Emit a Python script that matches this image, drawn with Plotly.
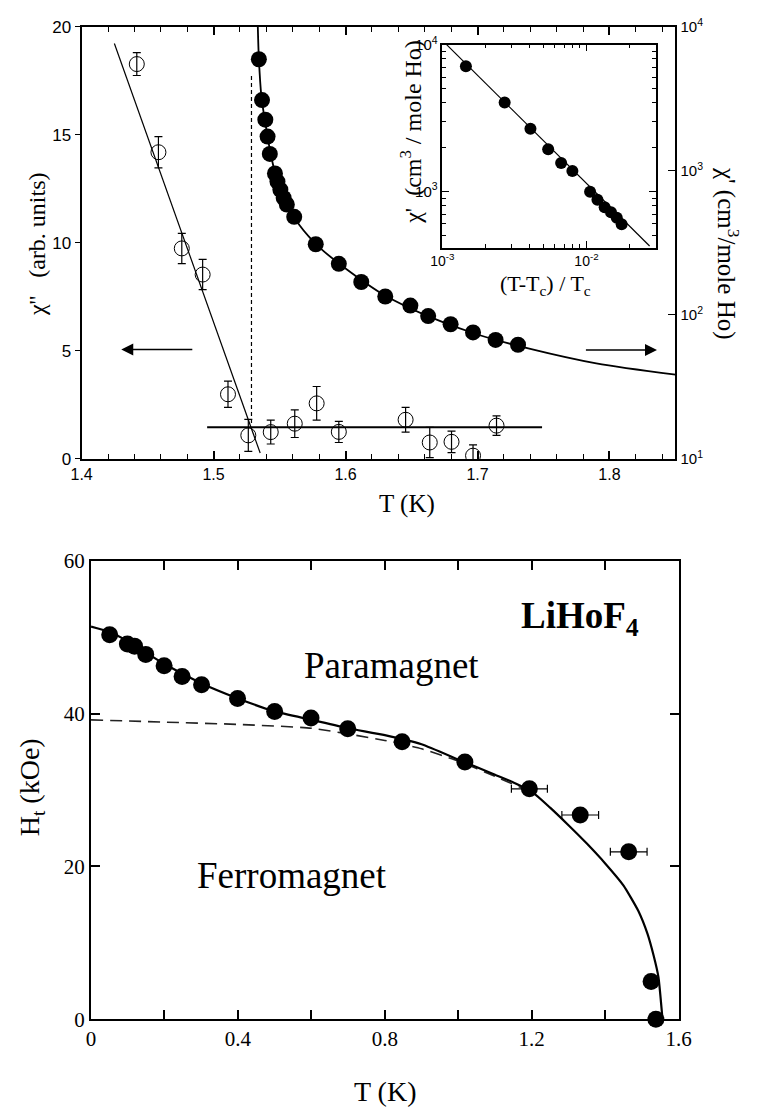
import plotly.graph_objects as go

# ---- upper panel: chi'' (open circles, left axis) and chi' (filled, right log axis)
T_open = [1.4418, 1.4582, 1.4759, 1.4917, 1.5109, 1.5263, 1.5433, 1.5615,
          1.5781, 1.5949, 1.6455, 1.6638, 1.6803, 1.6966, 1.7144]
chi2 = [18.27, 14.19, 9.74, 8.53, 2.99, 1.09, 1.24, 1.63, 2.57, 1.25, 1.81,
        0.76, 0.79, 0.15, 1.54]
chi2_err = [0.53, 0.72, 0.7, 0.7, 0.61, 0.74, 0.55, 0.64, 0.78, 0.49, 0.57,
            0.7, 0.5, 0.5, 0.45]

T_fill = [1.5343, 1.5367, 1.5392, 1.5409, 1.5426, 1.5465, 1.5484, 1.5506,
          1.5531, 1.5555, 1.5611, 1.5774, 1.5949, 1.6119, 1.6301, 1.6491,
          1.6626, 1.6796, 1.6966, 1.7137, 1.7307]
chi1 = [5940, 3093, 2263, 1727, 1308, 957, 841, 738, 648, 583, 479, 309, 226,
        169, 134, 116, 98, 86, 75.5, 67, 62]

# fitted chi' curve
T_fit = [1.5335, 1.5343, 1.5362, 1.5390, 1.5430, 1.5480, 1.5550, 1.5650,
         1.5800, 1.6000, 1.6300, 1.6600, 1.7000, 1.7400, 1.7900, 1.8500]
chi1_fit = [10000, 6000, 3300, 2200, 1350, 860, 600, 420, 295, 210, 136, 100,
            73, 58, 46, 38.4]

# straight-line guides for chi''
T_drop = [1.4248, 1.5353]
chi2_drop = [19.22, 0.27]
T_flat = [1.4951, 1.7489]
chi2_flat = [1.47, 1.47]
T_c_line = [1.5287, 1.5287]
chi2_c_line = [1.66, 17.8]

# ---- inset: chi' vs reduced temperature
t_red = [0.001456, 0.002704, 0.004083, 0.005420, 0.006668, 0.007979,
         0.01059, 0.01191, 0.01336, 0.01479, 0.01622, 0.01753]
chi1_red = [7130, 4027, 2673, 1935, 1561, 1374, 995, 876, 778, 721, 661, 596]
t_line = [0.00107, 0.0274]
chi1_line = [10000, 424]

# ---- lower panel: transverse critical field
T_h = [0.0508, 0.099, 0.1185, 0.149, 0.199, 0.248, 0.301, 0.399, 0.500,
       0.599, 0.699, 0.847, 1.018, 1.1936, 1.332, 1.464, 1.525, 1.538]
H_t = [50.33, 49.14, 48.85, 47.77, 46.28, 44.87, 43.79, 42.0, 40.29, 39.44,
       38.03, 36.32, 33.67, 30.17, 26.74, 21.92, 4.95, 0]
T_h_err = [0, 0, 0, 0, 0, 0, 0, 0, 0, 0, 0, 0, 0, 0.049, 0.05, 0.05, 0, 0]

T_mf = [0, 0.05, 0.1, 0.15, 0.2, 0.3, 0.4, 0.5, 0.6, 0.7, 0.8, 0.9, 1.0, 1.1,
        1.15, 1.2, 1.25, 1.3, 1.35, 1.4, 1.45, 1.49, 1.515, 1.532, 1.545,
        1.556]
H_mf = [51.4, 50.7, 49.5, 48.0, 46.5, 44.0, 42.0, 40.3, 39.2, 38.1, 37.2,
        36.0, 34.0, 32.0, 31.0, 29.8, 27.7, 25.4, 23.0, 20.4, 17.5, 14.2,
        11.2, 8.3, 5.5, 0]
T_ei = [0, 0.2, 0.4, 0.6, 0.8, 0.9, 1.0, 1.1, 1.2]
H_ei = [39.2, 38.9, 38.6, 38.1, 36.5, 35.4, 33.8, 31.8, 29.7]

SANS = "Liberation Sans, Arial, Helvetica, sans-serif"
SERIF = "Liberation Serif, Times New Roman, Times, serif"
BLACK = "black"
NB = "\u00a0"

fig = go.Figure()

# upper panel traces
fig.add_trace(go.Scatter(x=T_drop, y=chi2_drop, mode="lines",
                         line=dict(color=BLACK, width=1.2),
                         xaxis="x", yaxis="y", showlegend=False))
fig.add_trace(go.Scatter(x=T_flat, y=chi2_flat, mode="lines",
                         line=dict(color=BLACK, width=2),
                         xaxis="x", yaxis="y", showlegend=False))
fig.add_trace(go.Scatter(x=T_c_line, y=chi2_c_line, mode="lines",
                         line=dict(color=BLACK, width=1.2, dash="4px,3px"),
                         xaxis="x", yaxis="y", showlegend=False))
fig.add_trace(go.Scatter(x=T_open, y=chi2, mode="markers",
                         marker=dict(symbol="circle-open", size=15,
                                     color=BLACK, line=dict(width=1)),
                         error_y=dict(type="data", array=chi2_err,
                                      color=BLACK, thickness=1.2, width=4),
                         xaxis="x", yaxis="y", showlegend=False))
fig.add_trace(go.Scatter(x=T_fit, y=chi1_fit, mode="lines",
                         line=dict(color=BLACK, width=1.8, shape="spline",
                                   smoothing=0.8),
                         xaxis="x", yaxis="y2", showlegend=False))
fig.add_trace(go.Scatter(x=T_fill, y=chi1, mode="markers",
                         marker=dict(symbol="circle", size=16, color=BLACK),
                         xaxis="x", yaxis="y2", showlegend=False))

# inset traces
fig.add_trace(go.Scatter(x=t_line, y=chi1_line, mode="lines",
                         line=dict(color=BLACK, width=1.2),
                         xaxis="x3", yaxis="y3", showlegend=False))
fig.add_trace(go.Scatter(x=t_red, y=chi1_red, mode="markers",
                         marker=dict(symbol="circle", size=12, color=BLACK),
                         xaxis="x3", yaxis="y3", showlegend=False))

# lower panel traces
fig.add_trace(go.Scatter(x=T_ei, y=H_ei, mode="lines",
                         line=dict(color="#222222", width=1.6,
                                   dash="12px,7px", shape="spline",
                                   smoothing=0.5),
                         xaxis="x4", yaxis="y4", showlegend=False))
fig.add_trace(go.Scatter(x=T_mf, y=H_mf, mode="lines",
                         line=dict(color=BLACK, width=2.2, shape="spline",
                                   smoothing=0.5),
                         xaxis="x4", yaxis="y4", showlegend=False))
fig.add_trace(go.Scatter(x=T_h, y=H_t, mode="markers",
                         marker=dict(symbol="circle", size=17, color=BLACK),
                         error_x=dict(type="data", array=T_h_err, color=BLACK,
                                      thickness=1.2, width=4),
                         cliponaxis=False,
                         xaxis="x4", yaxis="y4", showlegend=False))

W, H = 761, 1119


def px(x):
    return x / W


def py(y):
    return 1 - y / H


common = dict(showgrid=False, zeroline=False, showline=True,
              linecolor=BLACK, tickcolor=BLACK)

fig.update_layout(
    width=W, height=H, margin=dict(l=0, r=0, t=0, b=0),
    paper_bgcolor="white", plot_bgcolor="white",
    font=dict(family=SANS, size=16, color=BLACK),
    xaxis=dict(domain=[px(72), px(686)], anchor="y", range=[1.4, 1.85],
               tickmode="array", tickvals=[1.4, 1.5, 1.6, 1.7, 1.8],
               ticktext=["1.4", "1.5", "1.6", "1.7", "1.8"],
               ticks="inside", ticklen=8, tickwidth=1.5, linewidth=2,
               mirror="ticks",
               minor=dict(dtick=0.02, tick0=1.4, ticks="inside", ticklen=5,
                          tickwidth=1, tickcolor=BLACK),
               tickfont=dict(family=SANS, size=16, color=BLACK), **common),
    yaxis=dict(domain=[py(456.7), py(15)], anchor="x", range=[0, 20],
               tickvals=[0, 5, 10, 15, 20], ticks="outside", ticklen=5,
               tickwidth=1.2, linewidth=2,
               tickfont=dict(family=SANS, size=17, color=BLACK), **common),
    yaxis2=dict(overlaying="y", side="right", anchor="x", type="log",
                range=[1, 4], tickvals=[10, 100, 1000, 10000],
                ticktext=["10<sup>1</sup>", "10<sup>2</sup>",
                          "10<sup>3</sup>", "10<sup>4</sup>"],
                ticks="inside", ticklen=7, tickwidth=1.2, linewidth=2,
                tickfont=dict(family=SANS, size=15, color=BLACK), **common),
    xaxis3=dict(domain=[px(445), px(666)], anchor="y3", type="log",
                range=[-3, -1.517], tickvals=[0.001, 0.01],
                ticktext=["10<sup>-3</sup>", "10<sup>-2</sup>"],
                ticks="inside", ticklen=7, tickwidth=1, linewidth=1.5,
                mirror="ticks", ticklabelstandoff=0,
                minor=dict(tickvals=[0.002, 0.003, 0.004, 0.005, 0.006,
                                     0.007, 0.008, 0.009, 0.02, 0.03],
                           ticks="inside", ticklen=4, tickcolor=BLACK),
                tickfont=dict(family=SANS, size=14, color=BLACK), **common),
    yaxis3=dict(domain=[py(240.7), py(33.3)], anchor="x3", type="log",
                range=[2.617, 4], tickvals=[1000, 10000],
                ticktext=["10<sup>3</sup>", "10<sup>4</sup>"],
                ticks="inside", ticklen=7, tickwidth=1, linewidth=1.5,
                mirror="ticks",
                minor=dict(tickvals=[500, 600, 700, 800, 900, 2000, 3000,
                                     4000, 5000, 6000, 7000, 8000, 9000],
                           ticks="inside", ticklen=4, tickcolor=BLACK),
                tickfont=dict(family=SANS, size=15, color=BLACK), **common),
    xaxis4=dict(domain=[px(81.7), px(689.3)], anchor="y4", range=[0, 1.6],
                tickmode="array", tickvals=[0, 0.4, 0.8, 1.2, 1.6],
                ticktext=["0", "0.4", "0.8", "1.2", "1.6"],
                ticks="inside", ticklen=9, tickwidth=1.5, linewidth=2,
                mirror="ticks",
                minor=dict(dtick=0.2, tick0=0, ticks="inside", ticklen=9,
                           tickwidth=1.5, tickcolor=BLACK),
                tickfont=dict(family=SERIF, size=21, color=BLACK), **common),
    yaxis4=dict(domain=[py(1029.3), py(561)], anchor="x4", range=[0, 60],
                tickvals=[0, 20, 40, 60], ticks="inside", ticklen=9,
                tickwidth=1.5, linewidth=2, mirror="ticks",
                tickfont=dict(family=SERIF, size=21, color=BLACK), **common),
)


def label(text, x, y, size, angle=0):
    return dict(text=text, x=px(x), y=py(y), xref="paper", yref="paper",
                showarrow=False, textangle=angle, xanchor="center",
                yanchor="middle",
                font=dict(family=SERIF, size=size, color=BLACK))


ann = [
    # upper panel axis titles
    label("T (K)", 408, 503, 25),
    label("χ''" + NB * 3 + "(arb. units)", 26, 237, 24, -90),
    label("χ' (cm<sup>3</sup>/mole Ho)", 740, 247, 25, 90),
    # inset axis titles
    label("χ'" + NB * 2 + "(cm<sup>3</sup> / mole Ho)", 413, 122, 24, -90),
    label("(T-T<sub>c</sub>) / T<sub>c</sub>", 552, 279, 22),
    # lower panel axis titles
    label("T (K)", 386, 1103, 28),
    label("H<sub>t</sub> (kOe)", 20, 792, 28, -90),
    # phase labels
    label("Paramagnet", 392, 668, 37),
    label("Ferromagnet", 289, 882, 37),
    label("<b>LiHoF<sub>4</sub></b>", 587, 620, 37),
]
# arrows pointing to the relevant axes
ann.append(dict(text="", x=1.43, y=5.06, ax=1.485, ay=5.06, xref="x",
                yref="y", axref="x", ayref="y", showarrow=True, arrowhead=2,
                arrowsize=1.5, arrowwidth=1.6, arrowcolor=BLACK, standoff=0,
                startstandoff=0))
ann.append(dict(text="", x=1.836, y=5.04, ax=1.781, ay=5.04, xref="x",
                yref="y", axref="x", ayref="y", showarrow=True, arrowhead=2,
                arrowsize=1.5, arrowwidth=1.6, arrowcolor=BLACK, standoff=0,
                startstandoff=0))
fig.update_layout(annotations=ann)

fig.write_html("out.html")
